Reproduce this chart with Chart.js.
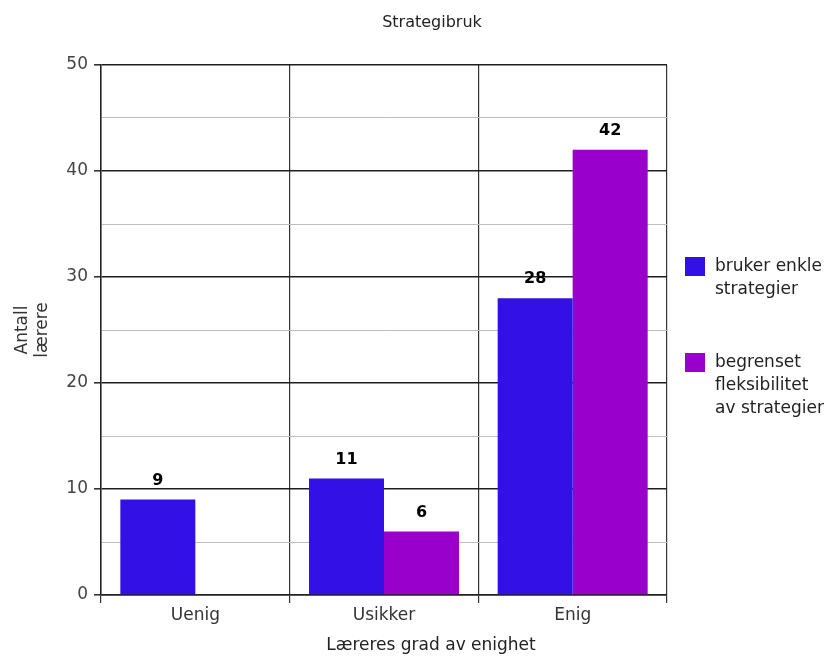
<!DOCTYPE html>
<html>
<head>
<meta charset="utf-8">
<script src="https://cdn.jsdelivr.net/npm/chart.js@4.4.0/dist/chart.umd.min.js"></script>
<style>
  html, body { margin: 0; padding: 0; background: #fff; }
  #wrap { width: 828px; height: 660px; position: relative; }
</style>
</head>
<body>
<div id="wrap"><canvas id="c" width="828" height="660"></canvas></div>
<script>
// Categories and series
const categories = ['Uenig', 'Usikker', 'Enig'];
const enkleStrategier = [9, 11, 28];
const begrensetFleksibilitet = [null, 6, 42];
const seriesNames = [['bruker enkle', 'strategier'], ['begrenset', 'fleksibilitet', 'av strategier']];
const seriesColors = ['#3311E6', '#9900CC'];
const yTickLabels = [0, 10, 20, 30, 40, 50];

const chartTitle = 'Strategibruk';
const xTitle = 'Læreres grad av enighet';
const yTitle = ['Antall', 'lærere'];

const FONT = '"DejaVu Sans", "Liberation Sans", Arial, sans-serif';

// Value labels, chart title, x-axis title and the multi-line legend
const annotate = {
  id: 'annotate',
  afterDatasetsDraw(chart) {
    const ctx = chart.ctx;
    ctx.save();
    ctx.fillStyle = '#000';
    ctx.font = 'bold 16px ' + FONT;
    ctx.textAlign = 'center';
    ctx.textBaseline = 'middle';
    chart.data.datasets.forEach((ds, di) => {
      const meta = chart.getDatasetMeta(di);
      meta.data.forEach((bar, i) => {
        const v = ds.data[i];
        if (v === null || v === undefined) return;
        ctx.fillText(String(v), bar.x, bar.y - 19);
      });
    });
    ctx.restore();
  },
  afterDraw(chart) {
    const ctx = chart.ctx;
    ctx.save();
    ctx.fillStyle = '#222';
    ctx.textAlign = 'center';
    ctx.textBaseline = 'middle';
    ctx.font = '16px ' + FONT;
    ctx.fillText(chartTitle, 432, 23);
    ctx.font = '17px ' + FONT;
    ctx.fillText(xTitle, 431, 646);

    // legend
    const starts = [257, 353];
    ctx.textAlign = 'left';
    ctx.font = '17px ' + FONT;
    chart.data.datasets.forEach((ds, di) => {
      const top = starts[di];
      ctx.fillStyle = ds.backgroundColor;
      ctx.fillRect(685, top, 20, 19);
      ctx.fillStyle = '#222';
      seriesNames[di].forEach((line, li) => {
        ctx.fillText(line, 715, top + 10 + li * 23);
      });
    });
    ctx.restore();
  }
};

new Chart(document.getElementById('c'), {
  type: 'bar',
  data: {
    labels: categories,
    datasets: [
      { label: seriesNames[0].join(' '), data: enkleStrategier, backgroundColor: seriesColors[0],
        categoryPercentage: 0.795, barPercentage: 1.0 },
      { label: seriesNames[1].join(' '), data: begrensetFleksibilitet, backgroundColor: seriesColors[1],
        categoryPercentage: 0.795, barPercentage: 1.0 }
    ]
  },
  options: {
    responsive: false,
    devicePixelRatio: 1,
    animation: false,
    layout: { padding: { top: 65, right: 161, bottom: 0, left: 12 } },
    plugins: {
      legend: { display: false },
      title: { display: false },
      tooltip: { enabled: false }
    },
    scales: {
      x: {
        offset: true,
        grid: {
          offset: true,
          color: '#333',
          lineWidth: 1.2,
          tickLength: 8,
          tickColor: '#333'
        },
        border: { display: true, color: '#222', width: 1.5 },
        ticks: { color: '#333', font: { family: FONT, size: 17 }, padding: 2 },
        afterFit(scale) { scale.height = 65; }
      },
      y: {
        min: 0,
        max: 50,
        ticks: {
          stepSize: 5,
          color: '#444',
          font: { family: FONT, size: 17 },
          padding: 6,
          callback: (v) => (yTickLabels.includes(v) ? String(v) : '')
        },
        grid: {
          color: (c) => (c.tick && c.tick.value % 10 === 0 ? '#1e1e1e' : '#bdbdbd'),
          lineWidth: (c) => (c.tick && c.tick.value % 10 === 0 ? 1.6 : 1),
          tickColor: (c) => (c.tick && c.tick.value % 10 === 0 ? '#333' : 'rgba(0,0,0,0)'),
          tickLength: 7
        },
        border: { display: true, color: '#222', width: 1.5 },
        title: {
          display: true,
          text: yTitle,
          color: '#333',
          font: { family: FONT, size: 17, lineHeight: 1.2 },
          padding: { top: 0, bottom: 0 }
        },
        afterFit(scale) { scale.width = 89; }
      }
    }
  },
  plugins: [annotate]
});
</script>
</body>
</html>
